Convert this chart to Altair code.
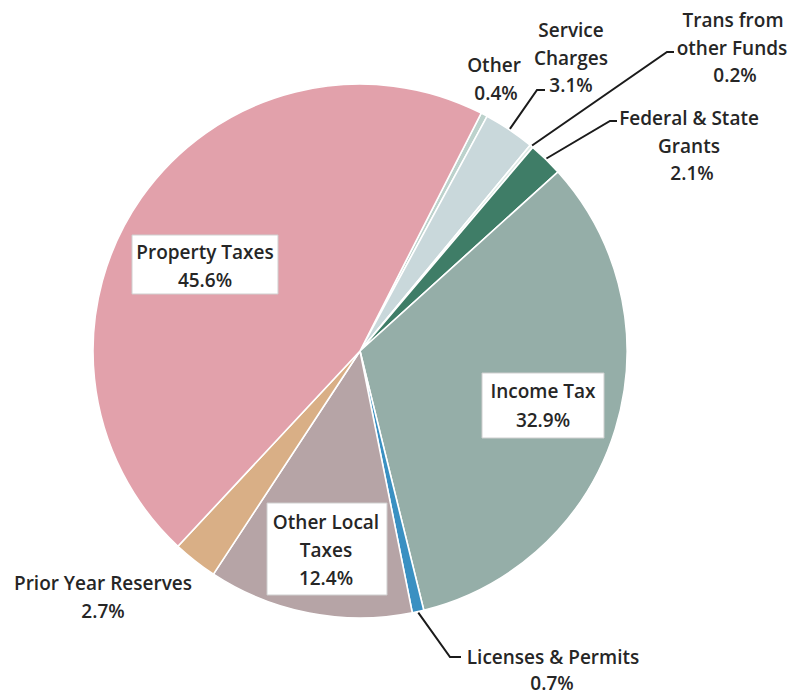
import math
import altair as alt
import pandas as pd

# ---------------- data ----------------
categories = ["Other", "Service Charges", "Trans from other Funds",
              "Federal & State Grants", "Income Tax", "Licenses & Permits",
              "Other Local Taxes", "Prior Year Reserves", "Property Taxes"]
shares = [0.4, 3.1, 0.2, 2.1, 32.9, 0.7, 12.4, 2.7, 45.6]
name_lines = [["Other"], ["Service", "Charges"], ["Trans from", "other Funds"],
              ["Federal & State", "Grants"], ["Income Tax"], ["Licenses & Permits"],
              ["Other Local", "Taxes"], ["Prior Year Reserves"], ["Property Taxes"]]

# ---------------- styles / layout ----------------
colors = ["#BCD2CC", "#C9D8DB", "#DCE9E4", "#3F7D67", "#95AEA8",
          "#3A90C2", "#B6A4A6", "#D9AF86", "#E2A1AB"]
OFF = 8  # page margin
CX, CY, R = 360 - OFF, 351 - OFF, 267
START_DEG = 27.0
# label line anchors (centre x, baseline y) in page pixels, one per text line
label_pos = {
    "Other": [(494, 72), (496, 100)],
    "Service Charges": [(571, 37), (571, 65), (571, 92)],
    "Trans from other Funds": [(733, 27), (732, 55), (735, 82)],
    "Federal & State Grants": [(689, 125), (689, 153), (692, 180)],
    "Income Tax": [(543, 398), (543, 427)],
    "Licenses & Permits": [(553, 664), (552, 690)],
    "Other Local Taxes": [(326, 529), (326, 557), (326, 585)],
    "Prior Year Reserves": [(103, 590), (103, 618)],
    "Property Taxes": [(205, 259), (205, 287)],
}
boxes = {
    "Property Taxes": (132, 235, 278, 294),
    "Income Tax": (482, 373, 604, 438),
    "Other Local Taxes": (267, 503, 387, 595),
}
# leader lines: elbow and end points (page pixels)
leaders = {
    "Service Charges": [(537, 90), (545, 90)],
    "Trans from other Funds": [(667, 52), (674, 52)],
    "Federal & State Grants": [(610, 121), (617, 121)],
    "Licenses & Permits": [(450, 657), (461, 657)],
}

total = sum(shares)
pie_df = pd.DataFrame({"cat": categories, "share": shares, "idx": list(range(len(categories)))})

# text rows
rows = []
for cat, v, names in zip(categories, shares, name_lines):
    lines = names + [f"{v:.1f}%"]
    for t, (x, y) in zip(lines, label_pos[cat]):
        rows.append({"text": t, "x": x - OFF, "y": y - OFF})
text_df = pd.DataFrame(rows)

box_df = pd.DataFrame([{"cat": k, "x": a - OFF, "y": b - OFF, "x2": c - OFF, "y2": d - OFF}
                       for k, (a, b, c, d) in boxes.items()])

# leader lines start at slice mid-angle on the rim (derived from data)
lrows = []
cum = 0.0
for cat, v in zip(categories, shares):
    mid = cum + v / 2
    cum += v
    if cat in leaders:
        ang = math.radians(START_DEG + mid / total * 360)
        sx = CX + (R + 1) * math.sin(ang)
        sy = CY - (R + 1) * math.cos(ang)
        pts = [(sx, sy)] + [(x - OFF, y - OFF) for x, y in leaders[cat]]
        for i, (x, y) in enumerate(pts):
            lrows.append({"cat": cat, "seq": i, "x": x, "y": y})
lead_df = pd.DataFrame(lrows)

off = math.radians(START_DEG)
pie = alt.Chart(pie_df).mark_arc(radius=R, stroke="white", strokeWidth=1.6).encode(
    theta=alt.Theta("share:Q", stack=True, scale=alt.Scale(range=[off, off + 2 * math.pi])),
    color=alt.Color("cat:N", scale=alt.Scale(domain=categories, range=colors), legend=None),
    order=alt.Order("idx:Q"),
    x=alt.value(CX),
    y=alt.value(CY),
)

box = alt.Chart(box_df).mark_rect(fill="white", stroke="#cfcfcf", strokeWidth=1).encode(
    x=alt.X("x:Q", scale=None), x2="x2:Q",
    y=alt.Y("y:Q", scale=None), y2="y2:Q",
)

lead = alt.Chart(lead_df).mark_line(color="#1b1b1b", strokeWidth=2).encode(
    x=alt.X("x:Q", scale=None), y=alt.Y("y:Q", scale=None),
    detail="cat:N", order="seq:Q",
)

txt = alt.Chart(text_df).mark_text(
    align="center", baseline="alphabetic", font="Open Sans",
    fontSize=19, fontWeight=600, color="#262626",
).encode(
    x=alt.X("x:Q", scale=None), y=alt.Y("y:Q", scale=None), text="text:N",
)

chart = alt.layer(pie, box, lead, txt).properties(
    width=783, height=687,
    autosize=alt.AutoSizeParams(type="none"),
    padding=0,
).configure(background="white").configure_view(stroke=None)

chart.save("out.html", embed_options={"renderer": "svg", "actions": False})
